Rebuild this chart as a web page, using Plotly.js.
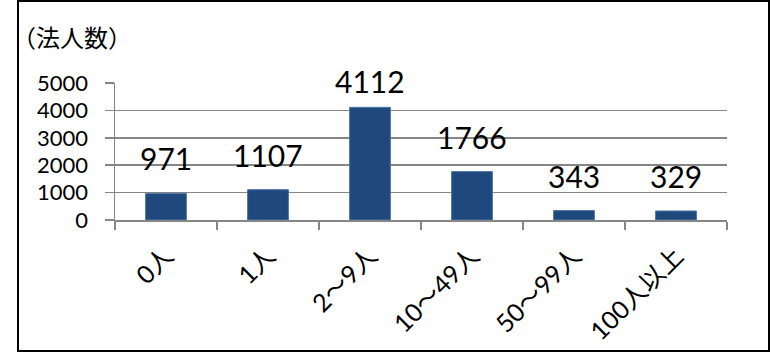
<!DOCTYPE html>
<html>
<head>
<meta charset="utf-8">
<script src="https://cdn.plot.ly/plotly-3.0.1.min.js"></script>
<style>
  html, body { margin: 0; padding: 0; background: #fff; }
  #chart { position: absolute; left: 0; top: 0; width: 770px; height: 354px; }
  #frame { position: absolute; left: 17px; top: 0; width: 749px; height: 348px;
           border: 2px solid #000; pointer-events: none; }
</style>
</head>
<body>
<div id="chart"></div>
<div id="frame"></div>
<script>
const categories = ["0人", "1人", "2～9人", "10～49人", "50～99人", "100人以上"];
const values = [971, 1107, 4112, 1766, 343, 329];
const yTickValues = [0, 1000, 2000, 3000, 4000, 5000];
const yAxisTitle = "（法人数）";

const FONT = "Lato, 'Noto Sans CJK JP', sans-serif";
const marginL = 115, marginR = 43, marginT = 83, marginB = 134;
const plotW = 770 - marginL - marginR;
const plotH = 354 - marginT - marginB;
const yMax = 5000;
const pxY = v => marginT + plotH * (1 - v / yMax);

const annotations = categories.map((c, i) => ({
  x: c, y: values[i], xref: 'x', yref: 'y',
  text: String(values[i]), showarrow: false,
  yanchor: 'bottom', xanchor: 'center',
  yshift: Math.min(15, pxY(values[i]) - 101),
  font: { family: FONT, size: 30, color: '#000' }
}));
annotations.push({
  xref: 'paper', yref: 'paper', x: (10 - marginL) / plotW, y: 1,
  yshift: 27, xanchor: 'left', yanchor: 'bottom', showarrow: false,
  text: yAxisTitle, font: { family: "'Noto Sans CJK JP', sans-serif", size: 24, color: '#000' }
});

const trace = {
  type: 'bar', x: categories, y: values, width: 0.4,
  marker: { color: '#1F497D', line: { color: '#4F74A8', width: 1 } },
  hoverinfo: 'none'
};

const layout = {
  width: 770, height: 354,
  margin: { l: marginL, r: marginR, t: marginT, b: marginB, pad: 0 },
  paper_bgcolor: 'rgba(0,0,0,0)', plot_bgcolor: 'rgba(0,0,0,0)',
  showlegend: false,
  font: { family: FONT, color: '#000' },
  xaxis: {
    type: 'category', tickson: 'boundaries', ticks: 'outside', ticklen: 8,
    tickcolor: '#868686', tickwidth: 1.5,
    showline: true, linecolor: '#868686', linewidth: 1.5,
    showgrid: false, tickangle: -45, ticklabelstandoff: 10,
    tickfont: { family: FONT, size: 25, color: '#000' }
  },
  yaxis: {
    range: [0, yMax], tickvals: yTickValues, ticktext: yTickValues.map(String),
    ticks: 'outside', ticklen: 9, tickcolor: '#868686', tickwidth: 1.5,
    showline: true, linecolor: '#868686', linewidth: 1.5,
    showgrid: true, gridcolor: '#868686', gridwidth: 1.5, zeroline: false,
    ticklabelstandoff: 12,
    tickfont: { family: FONT, size: 22, color: '#000' }
  },
  annotations: annotations
};

Plotly.newPlot('chart', [trace], layout, { staticPlot: true, displayModeBar: false });
</script>
</body>
</html>
